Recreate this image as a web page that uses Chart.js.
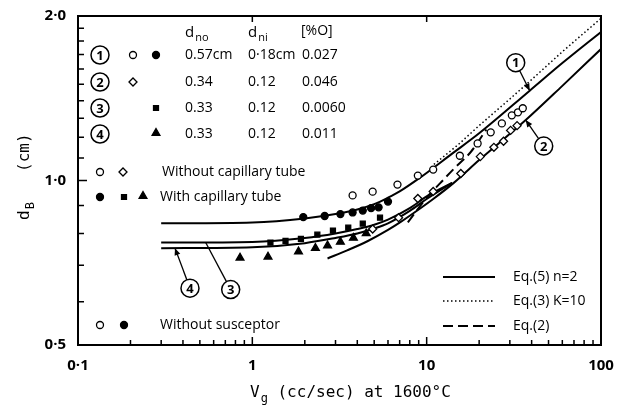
<!DOCTYPE html>
<html>
<head>
<meta charset="utf-8">
<script src="https://cdn.jsdelivr.net/npm/chart.js@4.4.0/dist/chart.umd.min.js"></script>
<style>
  html, body { margin: 0; padding: 0; background: #fff; }
  #wrap { width: 623px; height: 409px; }
</style>
</head>
<body>
<div id="wrap"><canvas id="theChart" width="623" height="409"></canvas></div>
<script>
// axis ticks
var xTickValues = [0.1, 1, 10, 100];
var xTickLabels = ['0·1', '1', '10', '100'];
var xMinorTicks = [0.2, 0.3, 0.4, 0.5, 0.6, 0.7, 0.8, 0.9, 2, 3, 4, 5, 6, 7, 8, 9, 20, 30, 40, 50, 60, 70, 80, 90];
var yTickValues = [0.5, 1, 2];
var yTickLabels = ['0·5', '1·0', '2·0'];
var yMinorTicks = [0.6, 0.7, 0.8, 0.9, 1.1, 1.2, 1.3, 1.4, 1.5, 1.6, 1.7, 1.8, 1.9];

// measured points, set 1 (dno 0.57cm)
var set1OpenX = [3.76, 4.9, 6.8, 8.9, 10.9, 15.5, 19.6, 23.3, 27, 30.8, 33.4, 35.6];
var set1OpenY = [0.939, 0.954, 0.983, 1.021, 1.047, 1.11, 1.169, 1.225, 1.272, 1.316, 1.333, 1.356];
var set1FilledX = [1.96, 2.6, 3.2, 3.76, 4.3, 4.8, 5.3, 6.0];
var set1FilledY = [0.857, 0.861, 0.868, 0.874, 0.881, 0.89, 0.893, 0.915];
// set 2 (dno 0.34) open diamonds
var set2X = [4.9, 6.9, 8.9, 10.9, 15.7, 20.3, 24.3, 27.6, 30.3, 33];
var set2Y = [0.815, 0.855, 0.927, 0.955, 1.03, 1.106, 1.15, 1.18, 1.235, 1.26];
// set 3 filled squares, set 4 filled triangles
var set3X = [1.27, 1.55, 1.9, 2.36, 2.9, 3.55, 4.3, 5.4];
var set3Y = [0.77, 0.775, 0.782, 0.796, 0.81, 0.82, 0.834, 0.855];
var set4X = [0.85, 1.23, 1.84, 2.3, 2.7, 3.2, 3.8, 4.5];
var set4Y = [0.722, 0.725, 0.741, 0.752, 0.76, 0.772, 0.785, 0.80];

// calculated curves
var eq5Curve1X = [0.3, 1, 2, 3, 4, 5, 6, 7, 9.2, 14, 20, 39, 60, 100];
var eq5Curve1Y = [0.835, 0.838, 0.852, 0.868, 0.885, 0.905, 0.93, 0.955, 1.013, 1.12, 1.22, 1.46, 1.64, 1.87];
var eq5Curve2X = [2.7, 3.5, 4.6, 6, 7.1, 9, 10.9, 14.3, 20, 37, 60, 100];
var eq5Curve2Y = [0.72, 0.745, 0.775, 0.812, 0.84, 0.885, 0.925, 0.99, 1.09, 1.29, 1.49, 1.74];
var eq5Curve3X = [0.3, 1, 2, 3, 4, 5, 6, 8, 10, 14];
var eq5Curve3Y = [0.77, 0.772, 0.785, 0.8, 0.815, 0.83, 0.848, 0.89, 0.935, 0.99];
var eq5Curve4X = [0.3, 1, 2, 3, 4, 5, 6, 8, 10, 14];
var eq5Curve4Y = [0.752, 0.755, 0.768, 0.785, 0.8, 0.817, 0.835, 0.88, 0.925, 0.99];
var eq3X = [11, 15, 20, 30, 40, 60, 100];
var eq3Y = [1.07, 1.16, 1.26, 1.41, 1.53, 1.72, 1.98];
var eq2X = [7.8, 10, 12, 14.3, 18, 22];
var eq2Y = [0.838, 0.93, 0.99, 1.05, 1.13, 1.24];

// numbered callouts: label and the point on the curve it points at
var calloutText = ['1', '2', '3', '4'];
var calloutX = [39, 37, 0.54, 0.36];
var calloutY = [1.46, 1.29, 0.77, 0.752];

// table rows
var rowNumbers = ['1', '2', '3', '4'];
var rowDno = ['0.57cm', '0.34', '0.33', '0.33'];
var rowDni = ['0·18cm', '0.12', '0.12', '0.12'];
var rowOxygen = ['0.027', '0.046', '0.0060', '0.011'];

function pts(xs, ys) {
    return xs.map(function (x, i) { return { x: x, y: ys[i] }; });
}
function curve(xs, ys, dash, width) {
    return { data: pts(xs, ys), showLine: true, borderColor: '#000', borderWidth: width,
             borderDash: dash, pointRadius: 0, cubicInterpolationMode: 'monotone', fill: false, order: 2 };
}
function marks(xs, ys, style, fill, r) {
    return { data: pts(xs, ys), showLine: false, pointStyle: style, pointRadius: r,
             pointBackgroundColor: fill, pointBorderColor: '#000', pointBorderWidth: 1.3, order: 1 };
}

var FONT = '"Open Sans", "DejaVu Sans", sans-serif';
var MONO = '"DejaVu Sans Mono", monospace';

function marker(ctx, style, fill, r, x, y) {
    ctx.save();
    ctx.fillStyle = fill;
    ctx.strokeStyle = '#000';
    ctx.lineWidth = 1.3;
    Chart.helpers.drawPoint(ctx, { pointStyle: style, radius: r, borderWidth: 1.3, rotation: 0 }, x, y);
    ctx.restore();
}
function circled(ctx, t, x, y, r) {
    ctx.beginPath();
    ctx.arc(x, y, r, 0, Math.PI * 2);
    ctx.lineWidth = 1.5;
    ctx.stroke();
    ctx.font = 'bold ' + (r + 4) + 'px ' + FONT;
    ctx.textAlign = 'center';
    ctx.textBaseline = 'middle';
    ctx.fillText(t, x, y + 1);
}
function subText(ctx, base, sub, x, y, size, font) {
    ctx.textAlign = 'left';
    ctx.textBaseline = 'middle';
    ctx.font = size + 'px ' + font;
    ctx.fillText(base, x, y);
    var w = ctx.measureText(base).width;
    ctx.font = Math.round(size * 0.72) + 'px ' + font;
    ctx.fillText(sub, x + w + 1, y + size * 0.35);
    return x + w + 1 + ctx.measureText(sub).width;
}

var paperPlugin = {
    id: 'paper',
    afterDraw: function (chart) {
        var ctx = chart.ctx, a = chart.chartArea;
        var xs = chart.scales.x, ys = chart.scales.y;
        ctx.save();
        ctx.strokeStyle = '#000';
        ctx.fillStyle = '#000';
        // frame
        ctx.lineWidth = 2;
        ctx.strokeRect(a.left, a.top, a.right - a.left, a.bottom - a.top);
        // inward ticks
        ctx.lineWidth = 1.5;
        ctx.beginPath();
        xTickValues.forEach(function (v) {
            var p = xs.getPixelForValue(v);
            ctx.moveTo(p, a.bottom); ctx.lineTo(p, a.bottom - 8);
            ctx.moveTo(p, a.top); ctx.lineTo(p, a.top + 6);
        });
        xMinorTicks.forEach(function (v) {
            var p = xs.getPixelForValue(v);
            ctx.moveTo(p, a.bottom); ctx.lineTo(p, a.bottom - 5);
        });
        yTickValues.forEach(function (v) {
            var p = ys.getPixelForValue(v);
            ctx.moveTo(a.left, p); ctx.lineTo(a.left + 9, p);
        });
        yMinorTicks.forEach(function (v) {
            var p = ys.getPixelForValue(v);
            ctx.moveTo(a.left, p); ctx.lineTo(a.left + 6, p);
        });
        ctx.stroke();

        // table header
        subText(ctx, 'd', 'no', 185, 33, 15, FONT);
        subText(ctx, 'd', 'ni', 248, 33, 15, FONT);
        ctx.font = '14px ' + FONT;
        ctx.fillText('[%O]', 301, 31);
        var rowY = [55, 82, 108, 134];
        rowNumbers.forEach(function (t, i) {
            var y = rowY[i];
            circled(ctx, t, 100, y, 9);
            ctx.font = '14px ' + FONT;
            ctx.textAlign = 'left';
            ctx.textBaseline = 'middle';
            ctx.fillText(rowDno[i], 185, y);
            ctx.fillText(rowDni[i], 248, y);
            ctx.fillText(rowOxygen[i], 302, y);
        });
        marker(ctx, 'circle', '#fff', 3.5, 133, 55);
        marker(ctx, 'circle', '#000', 3.5, 156, 55);
        marker(ctx, 'rectRot', '#fff', 4, 133, 82);
        marker(ctx, 'rect', '#000', 3.5, 156, 108);
        marker(ctx, 'triangle', '#000', 4.5, 156, 133);

        // symbol key
        marker(ctx, 'circle', '#fff', 3.5, 100, 172);
        marker(ctx, 'rectRot', '#fff', 4, 123, 172);
        marker(ctx, 'circle', '#000', 3.5, 100, 197);
        marker(ctx, 'rect', '#000', 3.5, 124, 197);
        marker(ctx, 'triangle', '#000', 4.5, 143, 196);
        marker(ctx, 'circle', '#fff', 3.5, 100, 325);
        marker(ctx, 'circle', '#000', 3.5, 124, 325);
        ctx.font = '14px ' + FONT;
        ctx.textAlign = 'left';
        ctx.textBaseline = 'middle';
        ctx.fillText('Without capillary tube', 162, 172);
        ctx.fillText('With capillary tube', 160, 197);
        ctx.fillText('Without susceptor', 160, 325);

        // curve key
        var keyY = [277, 301, 326];
        var keyText = ['Eq.(5) n=2', 'Eq.(3) K=10', 'Eq.(2)'];
        var keyDash = [[], [1.5, 2.5], [10, 5]];
        var keyWidth = [2, 1.5, 2];
        keyY.forEach(function (y, i) {
            ctx.beginPath();
            ctx.setLineDash(keyDash[i]);
            ctx.lineWidth = keyWidth[i];
            ctx.moveTo(443, y); ctx.lineTo(495, y);
            ctx.stroke();
            ctx.setLineDash([]);
            ctx.font = '14px ' + FONT;
            ctx.fillText(keyText[i], 513, y);
        });

        // callouts
        var offs = [[-14, -28], [18, 26], [25, 47], [15, 40]];
        var heads = [true, true, false, true];
        calloutText.forEach(function (t, i) {
            var tx = xs.getPixelForValue(calloutX[i]), ty = ys.getPixelForValue(calloutY[i]);
            var lx = tx + offs[i][0], ly = ty + offs[i][1];
            var d = Math.hypot(lx - tx, ly - ty);
            var ux = (lx - tx) / d, uy = (ly - ty) / d;
            ctx.lineWidth = 1.3;
            ctx.beginPath();
            ctx.moveTo(tx, ty);
            ctx.lineTo(lx - ux * 9, ly - uy * 9);
            ctx.stroke();
            if (heads[i]) {
                ctx.beginPath();
                ctx.moveTo(tx, ty);
                ctx.lineTo(tx + ux * 7 - uy * 3, ty + uy * 7 + ux * 3);
                ctx.lineTo(tx + ux * 7 + uy * 3, ty + uy * 7 - ux * 3);
                ctx.closePath();
                ctx.fill();
            }
            circled(ctx, t, lx, ly, 9);
        });

        // axis titles
        var end = subText(ctx, 'V', 'g', 250, 393, 16, MONO);
        ctx.font = '16px ' + MONO;
        ctx.fillText(' (cc/sec) at 1600°C', end, 393);

        ctx.translate(25, 0);
        ctx.rotate(-Math.PI / 2);
        subText(ctx, 'd', 'B', -220, 0, 16, MONO);
        ctx.font = '16px ' + MONO;
        ctx.fillText('(cm)', -172, 0);
        ctx.restore();
    }
};

var chart = new Chart(document.getElementById('theChart').getContext('2d'), {
    type: 'scatter',
    data: {
        datasets: [
            marks(set1OpenX, set1OpenY, 'circle', '#fff', 3.5),
            marks(set1FilledX, set1FilledY, 'circle', '#000', 3.5),
            marks(set2X, set2Y, 'rectRot', '#fff', 4),
            marks(set3X, set3Y, 'rect', '#000', 3.5),
            marks(set4X, set4Y, 'triangle', '#000', 4.5),
            curve(eq5Curve1X, eq5Curve1Y, [], 2),
            curve(eq5Curve2X, eq5Curve2Y, [], 2),
            curve(eq5Curve3X, eq5Curve3Y, [], 2),
            curve(eq5Curve4X, eq5Curve4Y, [], 2),
            curve(eq3X, eq3Y, [1.5, 2.5], 1.5),
            curve(eq2X, eq2Y, [10, 5], 2)
        ]
    },
    options: {
        responsive: false,
        animation: false,
        devicePixelRatio: 1,
        layout: { padding: { top: 16, right: 22, left: 0, bottom: 0 } },
        plugins: { legend: { display: false }, tooltip: { enabled: false } },
        scales: {
            x: {
                type: 'logarithmic', min: 0.1, max: 100,
                grid: { display: false }, border: { display: false },
                afterBuildTicks: function (s) { s.ticks = xTickValues.map(function (v) { return { value: v }; }); },
                afterFit: function (s) { s.height = 64; },
                ticks: {
                    color: '#000', padding: 4, maxRotation: 0, autoSkip: false,
                    font: { family: FONT, size: 15, weight: 'bold' },
                    callback: function (v) { var i = xTickValues.indexOf(v); return i < 0 ? '' : xTickLabels[i]; }
                }
            },
            y: {
                type: 'logarithmic', min: 0.5, max: 2,
                grid: { display: false }, border: { display: false },
                afterBuildTicks: function (s) { s.ticks = yTickValues.map(function (v) { return { value: v }; }); },
                afterFit: function (s) { s.width = 78; },
                ticks: {
                    color: '#000', padding: 4, autoSkip: false,
                    font: { family: FONT, size: 15, weight: 'bold' },
                    callback: function (v) { var i = yTickValues.indexOf(v); return i < 0 ? '' : yTickLabels[i]; }
                }
            }
        }
    },
    plugins: [paperPlugin]
});
</script>
</body>
</html>
